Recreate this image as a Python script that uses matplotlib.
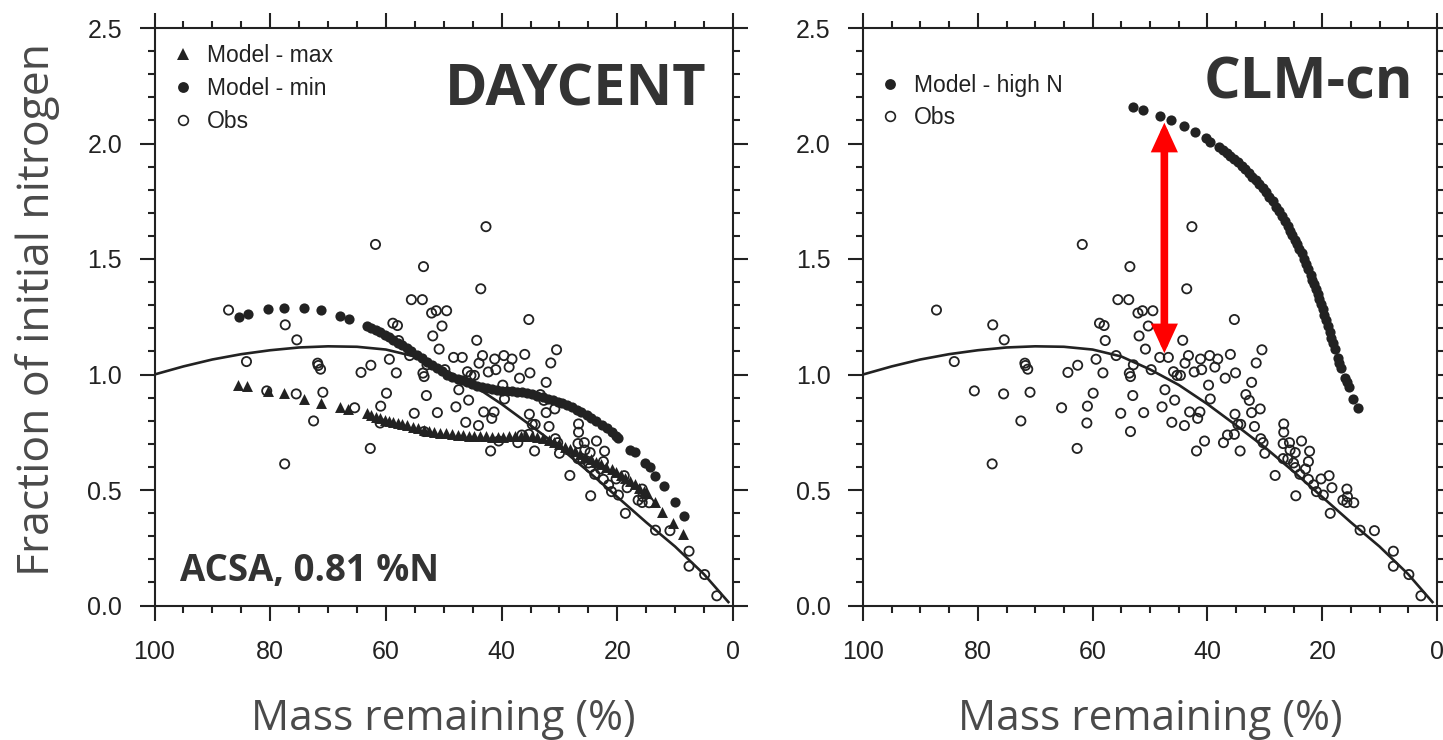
import matplotlib
matplotlib.use("Agg")
import matplotlib.pyplot as plt
from matplotlib.ticker import MultipleLocator, FormatStrFormatter
from matplotlib.lines import Line2D

# ---------------- data ----------------
obs_x = [87.2, 61.8, 53.5, 42.7, 43.6, 55.6, 53.7, 52.1, 51.3, 49.5, 50.3, 58.8, 58.0, 51.9,
         57.8, 50.8, 44.3, 35.3, 30.5, 36.0, 77.4, 75.4, 84.1, 71.8, 71.7, 71.3, 80.6, 75.5,
         70.9, 72.5, 77.5, 65.4, 62.6, 64.3, 59.4, 58.2, 55.9, 59.9, 60.9, 61.0, 62.7, 55.1,
         53.4, 53.0, 53.6, 53.4, 52.9, 51.1, 49.8, 48.3, 46.8, 47.4, 47.9, 46.2, 45.7, 45.9,
         45.3, 44.7, 43.3, 43.9, 42.3, 41.0, 41.2, 39.6, 38.7, 38.2, 39.8, 39.5, 43.1, 41.3,
         41.7, 44.0, 40.5, 41.9, 36.9, 35.1, 31.5, 32.3, 33.3, 32.7, 32.3, 30.8, 35.2, 34.7,
         34.2, 35.3, 31.8, 36.5, 37.2, 34.3, 30.7, 30.3, 30.0,
         28.2, 26.7, 26.7, 26.8, 26.8, 25.7, 25.6, 26.0, 24.7, 23.6, 22.2, 22.4, 25.0, 24.7,
         23.9, 22.9, 24.6, 22.4, 21.5, 21.0, 20.2, 19.8, 18.8, 18.3, 18.6, 15.7, 15.6, 16.4,
         15.7, 14.5, 13.4, 10.9, 7.6, 7.6, 4.9, 2.8]
obs_y = [1.279, 1.563, 1.467, 1.640, 1.371, 1.324, 1.324, 1.266, 1.276, 1.276, 1.210, 1.222, 1.212, 1.167,
         1.147, 1.110, 1.148, 1.238, 1.107, 1.087, 1.215, 1.150, 1.056, 1.049, 1.039, 1.023, 0.929, 0.916,
         0.923, 0.799, 0.613, 0.856, 1.040, 1.009, 1.066, 1.007, 1.082, 0.919, 0.863, 0.790, 0.680, 0.832,
         0.753, 0.909, 1.006, 0.991, 1.042, 0.835, 1.021, 1.074, 1.074, 0.934, 0.860, 0.793, 0.889, 1.012,
         0.996, 0.996, 1.082, 1.049, 1.011, 1.021, 1.067, 1.082, 1.032, 1.067, 0.954, 0.894, 0.838, 0.838,
         0.810, 0.779, 0.712, 0.669, 0.984, 1.007, 1.050, 0.966, 0.913, 0.888, 0.835, 0.851, 0.828, 0.784,
         0.784, 0.741, 0.775, 0.738, 0.705, 0.669, 0.722, 0.705, 0.659,
         0.563, 0.786, 0.750, 0.701, 0.636, 0.705, 0.673, 0.634, 0.662, 0.712, 0.668, 0.623, 0.617, 0.597,
         0.568, 0.591, 0.475, 0.546, 0.522, 0.493, 0.548, 0.478, 0.562, 0.510, 0.399, 0.504, 0.471, 0.456,
         0.446, 0.445, 0.326, 0.324, 0.235, 0.170, 0.134, 0.042]

fit_x = [100, 95, 90, 85, 80, 75, 70, 65, 60, 55, 50, 45, 40, 35, 30, 25, 20, 15, 10, 5, 0.8]
fit_y = [1.00, 1.035, 1.065, 1.088, 1.105, 1.117, 1.122, 1.120, 1.108, 1.078, 1.022, 0.955, 0.872,
         0.780, 0.685, 0.580, 0.470, 0.360, 0.255, 0.135, 0.015]

daycent_min_x = [85.4, 83.9, 80.3, 77.6, 74.1, 71.3, 67.9, 66.4,
                 63.3, 62.5, 61.7, 61.0, 60.2, 59.5, 58.7, 57.9, 57.2, 56.4, 55.6, 54.7, 53.8, 52.9,
                 52.0, 51.2, 50.3, 49.4, 48.5, 47.6, 46.8, 46.0, 45.1, 44.2, 43.4, 42.6, 41.7, 40.8,
                 39.9, 39.0, 38.2, 37.4, 36.5, 35.6, 34.7, 33.8, 32.8, 32.0, 31.1, 30.3, 29.5, 28.7,
                 27.9, 27.0, 26.2, 25.3, 24.5, 23.6, 22.7, 21.8, 21.0, 20.3, 19.8,
                 17.8, 16.9, 15.2, 14.3, 13.5, 12.0, 10.1, 8.5]
daycent_min_y = [1.250, 1.262, 1.282, 1.289, 1.287, 1.278, 1.255, 1.240,
                 1.210, 1.202, 1.193, 1.185, 1.173, 1.161, 1.149, 1.138, 1.127, 1.116, 1.100, 1.084, 1.070, 1.055,
                 1.041, 1.027, 1.013, 1.000, 0.990, 0.982, 0.975, 0.969, 0.960, 0.952, 0.946, 0.940, 0.936, 0.932,
                 0.930, 0.929, 0.927, 0.926, 0.923, 0.919, 0.914, 0.909, 0.904, 0.896, 0.888, 0.882, 0.875, 0.868,
                 0.858, 0.847, 0.836, 0.825, 0.812, 0.798, 0.783, 0.767, 0.750, 0.735, 0.724,
                 0.673, 0.666, 0.616, 0.601, 0.561, 0.517, 0.449, 0.387]

daycent_max_x = [85.5, 84.0, 80.4, 77.6, 74.2, 71.3, 67.9, 66.5,
                 63.3, 62.5, 61.7, 61.0, 60.2, 59.4, 58.7, 57.9, 57.2, 56.4, 55.4, 54.5, 53.5, 52.5,
                 51.6, 50.6, 49.6, 48.6, 47.6, 46.7, 45.7, 44.7, 43.7, 42.7, 41.7, 40.7, 39.7, 38.7,
                 37.7, 36.7, 35.7, 34.7, 33.8, 32.8, 31.8, 30.9, 30.0, 29.1, 28.2, 27.3, 26.4, 25.5,
                 24.6, 23.7, 22.8, 21.9, 21.0, 20.2, 19.4, 18.6, 17.8, 17.0, 16.2, 15.4, 14.9,
                 13.5, 12.3, 10.3, 8.6]
daycent_max_y = [0.955, 0.950, 0.930, 0.919, 0.894, 0.878, 0.861, 0.849,
                 0.832, 0.825, 0.817, 0.810, 0.805, 0.800, 0.796, 0.791, 0.786, 0.781, 0.774, 0.767, 0.760, 0.755,
                 0.751, 0.748, 0.745, 0.742, 0.739, 0.737, 0.735, 0.734, 0.733, 0.732, 0.731, 0.731, 0.731, 0.732,
                 0.733, 0.734, 0.734, 0.734, 0.730, 0.724, 0.716, 0.707, 0.698, 0.688, 0.678, 0.667, 0.656, 0.645,
                 0.634, 0.623, 0.612, 0.601, 0.590, 0.578, 0.565, 0.553, 0.540, 0.525, 0.510, 0.496, 0.486,
                 0.449, 0.406, 0.356, 0.310]

clm_x = [52.9, 51.3, 48.3, 46.3, 44.0, 42.2, 40.3, 39.5, 37.9,
         37.3, 36.6, 36.0, 35.3, 34.7, 34.0, 33.4, 32.8, 32.2, 31.6, 31.0, 30.4, 29.8, 29.2, 28.6,
         28.0, 27.5, 27.0, 26.5, 26.0, 25.6, 25.2, 24.8, 24.4, 24.0, 23.6, 23.2, 22.8, 22.4, 22.0,
         21.7, 21.4, 21.1, 20.8, 20.5, 20.2, 19.9, 19.6, 19.3, 19.0, 18.7, 18.4, 18.1, 17.8,
         17.3, 17.0, 16.7, 16.0, 15.6, 15.3, 14.7, 13.7]
clm_y = [2.157, 2.144, 2.121, 2.101, 2.074, 2.051, 2.025, 2.008, 1.983,
         1.973, 1.960, 1.948, 1.933, 1.918, 1.902, 1.888, 1.873, 1.857, 1.841, 1.825, 1.808, 1.790, 1.770, 1.749,
         1.727, 1.707, 1.687, 1.665, 1.642, 1.622, 1.603, 1.584, 1.565, 1.545, 1.524, 1.502, 1.479, 1.455, 1.431,
         1.411, 1.391, 1.371, 1.350, 1.328, 1.305, 1.282, 1.259, 1.236, 1.212, 1.186, 1.160, 1.135, 1.110,
         1.070, 1.050, 1.029, 0.987, 0.966, 0.946, 0.896, 0.855]

arrow_x = 47.5
arrow_y0, arrow_y1 = 1.092, 2.090

# ---------------- style ----------------
W, H = 1443, 740
fig = plt.figure(figsize=(W / 100, H / 100), dpi=100)
fig.patch.set_facecolor("white")

TICK_FONT = "Liberation Sans"
LABEL_FONT = "Open Sans"
INK = "#222222"
GREY = "#4a4a4a"
TITLE = "#333333"

bottom_px, top_px = 605.5, 28.0
ax1 = fig.add_axes([154.5 / W, 1 - bottom_px / H, 578.5 / W, (bottom_px - top_px) / H])
ax2 = fig.add_axes([863.0 / W, 1 - bottom_px / H, 574.0 / W, (bottom_px - top_px) / H])


def style_axes(ax):
    ax.set_xlim(100, 0)
    ax.set_ylim(0, 2.5)
    ax.xaxis.set_major_locator(MultipleLocator(20))
    ax.xaxis.set_minor_locator(MultipleLocator(5))
    ax.yaxis.set_major_locator(MultipleLocator(0.5))
    ax.yaxis.set_minor_locator(MultipleLocator(0.1))
    ax.yaxis.set_major_formatter(FormatStrFormatter("%.1f"))
    ax.xaxis.set_major_formatter(FormatStrFormatter("%d"))
    ax.tick_params(which="both", direction="out", top=True, right=True,
                   color=INK, width=1.5)
    ax.tick_params(which="major", length=10.8)
    ax.tick_params(which="minor", length=5.0)
    ax.tick_params(axis="x", which="major", pad=14, labelsize=18, labelcolor=INK)
    ax.tick_params(axis="y", which="major", pad=12.5, labelsize=18, labelcolor=INK)
    for lab in ax.get_xticklabels() + ax.get_yticklabels():
        lab.set_fontfamily(TICK_FONT)
    for sp in ax.spines.values():
        sp.set_linewidth(1.5)
        sp.set_color(INK)
    ax.set_xlabel("Mass remaining (%)", fontfamily=LABEL_FONT, fontsize=30.5,
                  color=GREY, va="baseline")
    ax.xaxis.set_label_coords(0.5, (bottom_px - 730) / (bottom_px - top_px))


obs_kw = dict(s=44, facecolors="none", edgecolors=INK, linewidths=1.3, zorder=3)
fill_kw = dict(s=54, color=INK, linewidths=0, zorder=4)

# ---------- left panel: DAYCENT ----------
style_axes(ax1)
ax1.plot(fit_x, fit_y, color=INK, lw=1.9, zorder=2)
ax1.scatter(obs_x, obs_y, **obs_kw)
ax1.scatter(daycent_max_x, daycent_max_y, marker="^", s=62, color=INK, linewidths=0, zorder=4)
ax1.scatter(daycent_min_x, daycent_min_y, marker="o", **fill_kw)

ax1.set_ylabel("Fraction of initial nitrogen", fontfamily=LABEL_FONT, fontsize=32,
               color=GREY, ha="center", va="center")
ax1.yaxis.set_label_coords((38 - 154.5) / 578.5, (bottom_px - 309) / (bottom_px - top_px))

ax1.text(0.955, 0.865, "DAYCENT", transform=ax1.transAxes, ha="right", va="baseline",
         fontfamily=LABEL_FONT, fontweight="bold", fontsize=41.5, color=TITLE)
ax1.text(0.044, 0.042, "ACSA, 0.81 %N", transform=ax1.transAxes, ha="left", va="baseline",
         fontfamily=LABEL_FONT, fontweight="bold", fontsize=26.4, color=TITLE)

h_max = Line2D([], [], ls="none", marker="^", ms=8.5, color=INK, mew=0)
h_min = Line2D([], [], ls="none", marker="o", ms=7.8, color=INK, mew=0)
h_obs = Line2D([], [], ls="none", marker="o", ms=7, mfc="none", mec=INK, mew=1.2)
leg1 = ax1.legend([h_max, h_min, h_obs], ["Model - max", "Model - min", "Obs"],
                  loc="upper left", bbox_to_anchor=(0.029, 0.9716), frameon=False,
                  borderpad=0, borderaxespad=0, handlelength=1.0, handletextpad=0.55,
                  labelspacing=0.42, prop={"family": TICK_FONT, "size": 16.5})
for t in leg1.get_texts():
    t.set_color(INK)

# ---------- right panel: CLM-cn ----------
style_axes(ax2)
ax2.plot(fit_x, fit_y, color=INK, lw=1.9, zorder=2)
ax2.scatter(obs_x, obs_y, **obs_kw)
ax2.scatter(clm_x, clm_y, marker="o", **fill_kw)
ax2.annotate("", xy=(arrow_x, arrow_y1), xytext=(arrow_x, arrow_y0),
             arrowprops=dict(arrowstyle="<|-|>,head_length=1.2,head_width=0.55",
                             lw=5.5, color="#ff0000", shrinkA=0, shrinkB=0,
                             joinstyle="miter"),
             zorder=5)
ax2.text(0.958, 0.878, "CLM-cn", transform=ax2.transAxes, ha="right", va="baseline",
         fontfamily=LABEL_FONT, fontweight="bold", fontsize=41.5, color=TITLE)

h_hi = Line2D([], [], ls="none", marker="o", ms=7.8, color=INK, mew=0)
leg2 = ax2.legend([h_hi, h_obs], ["Model - high N", "Obs"],
                  loc="upper left", bbox_to_anchor=(0.027, 0.921), frameon=False,
                  borderpad=0, borderaxespad=0, handlelength=1.0, handletextpad=0.55,
                  labelspacing=0.42, prop={"family": TICK_FONT, "size": 16.5})
for t in leg2.get_texts():
    t.set_color(INK)

fig.savefig("out.png", dpi=100, facecolor="white")
